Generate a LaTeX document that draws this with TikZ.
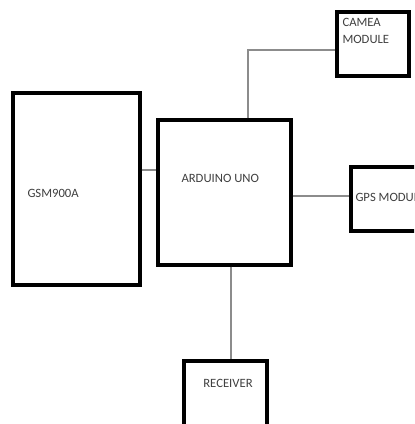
\documentclass[tikz,border=0pt]{standalone}
\usepackage{fontspec}
\setmainfont{Carlito}
\tikzset{every picture/.style={line width=0.75pt}}
\tikzset{
  blockbox/.style={draw=black,line width=2.3pt,fill=white,inner sep=0pt},
  linkline/.style={draw={rgb,255:red,140;green,140;blue,140},line width=0.8pt},
  blocktext/.style={inner sep=0pt,text={rgb,255:red,64;green,64;blue,64},font=\fontsize{9.5}{12.5}\selectfont}
}
\begin{document}
\begin{tikzpicture}[x=0.75pt,y=0.75pt,yscale=-1,xscale=1]
\useasboundingbox (0,0) rectangle (414,424);
\clip (0,0) rectangle (414,424);

%Shape: Rectangle [id:gsm]
\node [blockbox,minimum width=127*0.75pt,minimum height=192*0.75pt] (gsm) at (76.5,189) {};
%Shape: Rectangle [id:arduino]
\node [blockbox,minimum width=133*0.75pt,minimum height=145*0.75pt] (arduino) at (224.5,192.5) {};
%Shape: Rectangle [id:camera]
\node [blockbox,minimum width=72*0.75pt,minimum height=64*0.75pt] (camera) at (373,44) {};
%Shape: Rectangle [id:gps]
\node [blockbox,minimum width=110*0.75pt,minimum height=64*0.75pt] (gps) at (406,199) {};
%Shape: Rectangle [id:receiver]
\node [blockbox,minimum width=83*0.75pt,minimum height=110*0.75pt] (receiver) at (225.5,416) {};

%Straight Lines [id:gsm-arduino]
\draw [linkline] (gsm.east |- 0,170) -- (arduino.west |- 0,170) ;
%Straight Lines [id:arduino-camera]
\draw [linkline] (arduino.north -| 248,0) |- (camera.west |- 0,50) ;
%Straight Lines [id:arduino-gps]
\draw [linkline] (arduino.east |- 0,196) -- (gps.west |- 0,196) ;
%Straight Lines [id:arduino-receiver]
\draw [linkline] (arduino.south -| 231,0) -- (receiver.north -| 231,0) ;

% Text Node
\node [blocktext,anchor=west] (gsmtext) at (27,193) {GSM900A};
% Text Node
\node [blocktext,anchor=west] (arduinotext) at (181,178) {ARDUINO UNO};
% Text Node
\node [blocktext,anchor=north west,align=left] (cameratext) at (342,18) {CAMEA\\MODULE};
% Text Node
\node [blocktext,anchor=west] (gpstext) at (355,197) {GPS MODULE};
% Text Node
\node [blocktext] (receivertext) at (228,383) {RECEIVER};

\end{tikzpicture}
\end{document}
